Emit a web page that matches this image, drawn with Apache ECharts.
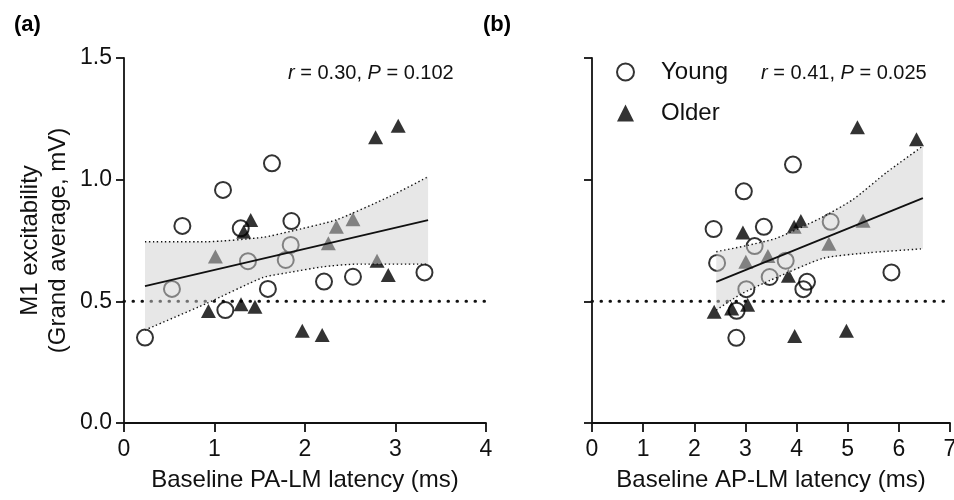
<!DOCTYPE html>
<html>
<head>
<meta charset="utf-8">
<script src="https://cdn.jsdelivr.net/npm/echarts@6/dist/echarts.min.js"></script>
<style>
  html, body { margin: 0; padding: 0; background: #fff; }
  #chart { width: 954px; height: 500px; }
</style>
</head>
<body>
<div id="chart"></div>
<script>
// values: [latency (ms), M1 excitability (mV)]
const youngA = [[1.635,1.067],[1.094,0.958],[0.645,0.810],[1.29,0.800],[1.85,0.830],[1.842,0.732],
  [1.37,0.665],[1.787,0.670],[3.32,0.619],[0.53,0.551],[1.59,0.551],[2.21,0.581],[2.53,0.601],
  [1.12,0.464],[0.232,0.351]];
const olderA = [[2.78,1.174],[3.03,1.222],[1.40,0.834],[1.323,0.786],[2.347,0.807],[2.53,0.837],
  [1.01,0.684],[2.258,0.739],[2.796,0.667],[2.92,0.608],[0.933,0.460],[1.293,0.488],[1.447,0.478],
  [1.97,0.379],[2.19,0.362]];
const youngB = [[3.93,1.062],[2.969,0.952],[2.378,0.797],[3.36,0.806],[4.667,0.827],[3.18,0.727],
  [2.446,0.658],[3.787,0.667],[3.474,0.600],[4.204,0.580],[4.133,0.550],[3.018,0.550],[5.855,0.619],
  [2.828,0.461],[2.822,0.350]];
const olderB = [[5.19,1.215],[6.345,1.166],[2.951,0.783],[3.953,0.806],[4.084,0.830],[5.30,0.831],
  [4.632,0.737],[3.008,0.663],[3.44,0.686],[3.84,0.605],[2.389,0.457],[2.73,0.471],[3.043,0.486],
  [3.963,0.358],[4.975,0.379]];

// regression lines and 95% bands, as drawn
const fitA = [[0.232,0.563],[3.36,0.834]];
const upperA = [[0.232,0.745],[0.91,0.745],[1.536,0.763],[1.83,0.787],[2.347,0.835],[2.936,0.931],[3.36,1.012]];
const lowerA = [[0.232,0.382],[0.91,0.491],[1.536,0.598],[1.83,0.619],[2.2,0.642],[2.568,0.653],[3.36,0.653]];
const fitB = [[2.43,0.58],[6.47,0.924]];
const upperB = [[2.43,0.704],[3.0,0.728],[3.6,0.759],[4.45,0.840],[5.1,0.918],[5.76,1.03],[6.47,1.138]];
const lowerB = [[2.43,0.464],[2.9,0.528],[3.47,0.585],[4.52,0.677],[5.43,0.700],[6.47,0.716]];

const baselineA = [[0,0.5],[4,0.5]];
const baselineB = [[0,0.5],[7,0.5]];

const statA = '{i|r} = 0.30, {i|P} = 0.102';
const statB = '{i|r} = 0.41, {i|P} = 0.025';

const font = 'Liberation Sans';
const ink = '#111';

function xAxis(idx, max, name) {
  return {
    gridIndex: idx, type: 'value', min: 0, max: max, interval: 1,
    name: name, nameLocation: 'middle', nameGap: 45,
    nameTextStyle: { fontFamily: font, fontSize: 24, color: ink },
    axisLine: { lineStyle: { color: ink, width: 1.8 } },
    axisTick: { length: 9, lineStyle: { color: ink, width: 1.8 } },
    axisLabel: { fontFamily: font, fontSize: 23, color: ink, margin: 15 },
    splitLine: { show: false }
  };
}

function yAxis(idx, labels) {
  return {
    gridIndex: idx, type: 'value', min: 0, max: 1.5, interval: 0.5,
    name: labels ? 'M1 excitability\n(Grand average, mV)' : '',
    nameLocation: 'middle', nameGap: 52,
    nameTextStyle: { fontFamily: font, fontSize: 24, color: ink, lineHeight: 28 },
    axisLine: { show: true, lineStyle: { color: ink, width: 1.8 } },
    axisTick: { show: true, length: 8, lineStyle: { color: ink, width: 1.8 } },
    axisLabel: { show: labels, fontFamily: font, fontSize: 23, color: ink, margin: 12,
      formatter: v => v.toFixed(1) },
    splitLine: { show: false }
  };
}

function bandSeries(idx, upper, lower) {
  return {
    type: 'custom', xAxisIndex: idx, yAxisIndex: idx, z: 3, silent: true,
    data: [[0, 0]],
    renderItem: (params, api) => {
      const pts = upper.map(p => api.coord(p))
        .concat(lower.slice().reverse().map(p => api.coord(p)));
      return { type: 'polygon', shape: { points: pts }, style: { fill: 'rgba(208,208,208,0.5)' } };
    }
  };
}

function lineSeries(idx, data, style, z) {
  return {
    type: 'line', xAxisIndex: idx, yAxisIndex: idx, data: data, z: z,
    symbol: 'none', silent: true, lineStyle: style
  };
}

const openCircle = { color: 'rgba(255,255,255,0)', borderColor: '#000', borderWidth: 2 };

function panelSeries(idx, young, older, fit, upper, lower, base) {
  return [
    lineSeries(idx, base, { color: ink, width: 3, type: [0.5, 8.5], cap: 'round' }, 1),
    {
      name: 'Young', type: 'scatter', xAxisIndex: idx, yAxisIndex: idx, data: young, z: 2,
      symbol: 'circle', symbolSize: 16, itemStyle: openCircle
    },
    {
      name: 'Older', type: 'scatter', xAxisIndex: idx, yAxisIndex: idx, data: older, z: 2,
      symbol: 'triangle', symbolSize: [15, 14],
      itemStyle: { color: '#000' }
    },
    bandSeries(idx, upper, lower),
    lineSeries(idx, fit, { color: ink, width: 1.8 }, 4),
    Object.assign(lineSeries(idx, upper, { color: ink, width: 1.4, type: [1.4, 2.6] }, 4), { smooth: 0.2 }),
    Object.assign(lineSeries(idx, lower, { color: ink, width: 1.4, type: [1.4, 2.6] }, 4), { smooth: 0.2 })
  ];
}

const statStyle = {
  fontFamily: font, fontSize: 20, fontWeight: 'normal', color: ink,
  rich: { i: { fontFamily: font, fontSize: 20, fontWeight: 'normal', fontStyle: 'italic', color: ink } }
};

const chart = echarts.init(document.getElementById('chart'), null, { renderer: 'canvas' });

chart.setOption({
  backgroundColor: '#fff',
  animation: false,
  textStyle: { fontFamily: font },
  title: [
    { text: '(a)', left: 9, top: 9, textStyle: { fontFamily: font, fontSize: 22, fontWeight: 'bold', color: '#000' } },
    { text: '(b)', left: 478, top: 9, textStyle: { fontFamily: font, fontSize: 22, fontWeight: 'bold', color: '#000' } },
    { text: statA, left: 283, top: 58, textStyle: statStyle },
    { text: statB, left: 756, top: 58, textStyle: statStyle }
  ],
  legend: {
    orient: 'vertical', left: 611, top: 55, itemWidth: 17, itemHeight: 17, itemGap: 17,
    itemStyle: { borderColor: '#000', borderWidth: 2 },
    data: [
      { name: 'Young', icon: 'circle', itemStyle: openCircle },
      { name: 'Older', icon: 'triangle', itemStyle: { color: '#000', borderWidth: 0 } }
    ],
    textStyle: { fontFamily: font, fontSize: 24, color: ink, lineHeight: 24, padding: [0, 0, 0, 22] }
  },
  grid: [
    { left: 124, top: 58, width: 362, height: 365, outerBoundsMode: 'none' },
    { left: 592, top: 58, width: 358, height: 365, outerBoundsMode: 'none' }
  ],
  xAxis: [
    xAxis(0, 4, 'Baseline PA-LM latency (ms)'),
    xAxis(1, 7, 'Baseline AP-LM latency (ms)')
  ],
  yAxis: [yAxis(0, true), yAxis(1, false)],
  series: panelSeries(0, youngA, olderA, fitA, upperA, lowerA, baselineA)
    .concat(panelSeries(1, youngB, olderB, fitB, upperB, lowerB, baselineB))
});
</script>
</body>
</html>
